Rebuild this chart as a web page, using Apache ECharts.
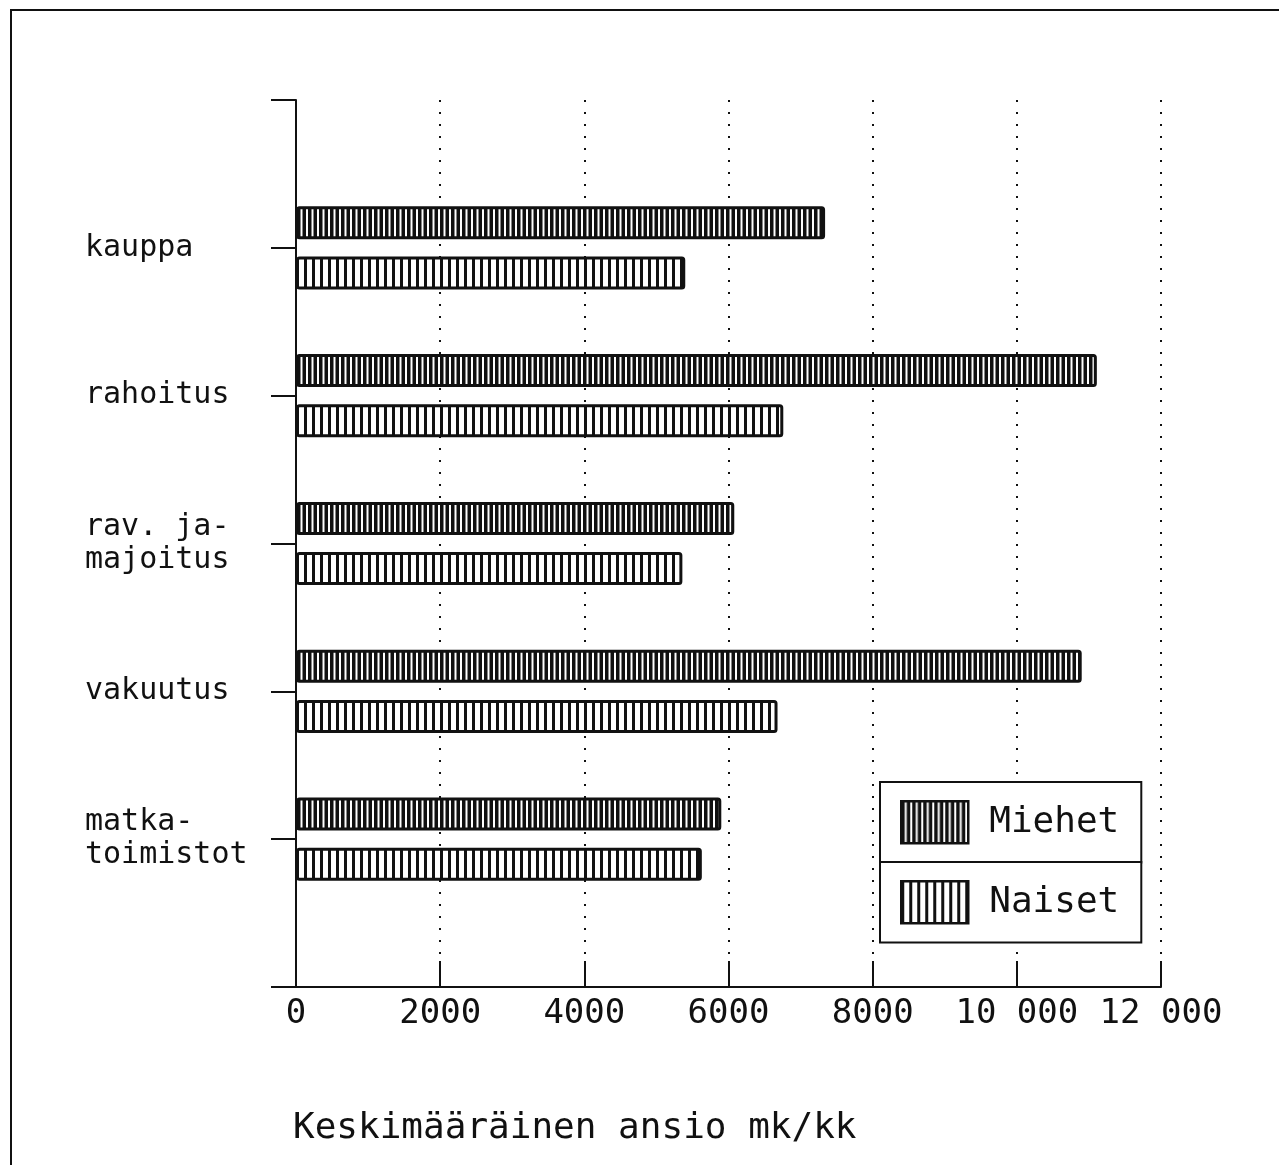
<!DOCTYPE html>
<html><head><meta charset="utf-8">
<script src="https://cdn.jsdelivr.net/npm/echarts@6/dist/echarts.min.js"></script>
<style>
html,body{margin:0;padding:0;background:#fff;overflow:hidden;}
#chart{position:absolute;left:0;top:0;width:1279px;height:1165px;}
#frame{position:absolute;left:10px;top:9px;width:1300px;height:1200px;border-top:2px solid #111;border-left:2px solid #111;pointer-events:none;}
</style></head><body>
<div id="chart"></div><div id="frame"></div>
<script>
// ---- data ----
const categories = ['kauppa', 'rahoitus', 'rav. ja-\nmajoitus', 'vakuutus', 'matka-\ntoimistot'];
const miehet = [7340, 11110, 6080, 10900, 5900];
const naiset = [5400, 6760, 5360, 6680, 5630];
const xTickValues = [0, 2000, 4000, 6000, 8000, 10000, 12000];
const seriesNames = ['Miehet', 'Naiset'];
const axisTitle = 'Keskimääräinen ansio mk/kk';

const INK = '#111';
const MONO = '"DejaVu Sans Mono", "Liberation Mono", monospace';

function stripePattern(tileW, stripes) {
  const c = document.createElement('canvas');
  c.width = tileW; c.height = 8;
  const g = c.getContext('2d');
  g.fillStyle = '#fff'; g.fillRect(0, 0, tileW, 8);
  g.fillStyle = INK;
  stripes.forEach(s => g.fillRect(s[0], 0, s[1], 8));
  return { image: c, repeat: 'repeat' };
}
const patMiehet = stripePattern(11, [[0, 3.5], [5.5, 3.5]]);
const patNaiset = stripePattern(8, [[0, 3]]);

const yData = [''].concat(categories, ['']);
const padData = arr => ['-'].concat(arr, ['-']);

const chart = echarts.init(document.getElementById('chart'), null, { renderer: 'canvas' });

function legendFor(name, top) {
  return {
    data: [name],
    left: 880, top: top,
    orient: 'vertical',
    icon: 'rect',
    itemWidth: 67, itemHeight: 42,
    padding: [18, 22, 18, 20],
    borderColor: INK, borderWidth: 2,
    backgroundColor: '#fff',
    selectedMode: false,
    itemStyle: { borderColor: INK, borderWidth: 2.5 },
    textStyle: { fontFamily: MONO, fontSize: 36, color: INK, width: 132, padding: [0, 0, 0, 16] }
  };
}

chart.setOption({
  animation: false,
  backgroundColor: '#fff',
  grid: { left: 296, right: 118, top: 100, bottom: 178 },
  title: {
    text: axisTitle, left: 288, top: 1106,
    textStyle: { fontFamily: MONO, fontSize: 36, fontWeight: 'normal', color: INK }
  },
  legend: [legendFor(seriesNames[0], 782), legendFor(seriesNames[1], 862)],
  xAxis: {
    type: 'value', min: 0, max: 12000, interval: 2000,
    axisLine: { show: true, lineStyle: { color: INK, width: 2 } },
    axisTick: { show: true, inside: true, length: 26, lineStyle: { color: INK, width: 2 } },
    splitLine: { show: true, lineStyle: { color: INK, width: 2, type: [2, 10] } },
    axisLabel: {
      margin: 10, fontFamily: MONO, fontSize: 34, color: INK,
      formatter: v => v >= 10000 ? String(v).replace(/\B(?=(\d{3})+(?!\d))/g, ' ') : String(v)
    }
  },
  yAxis: {
    type: 'category', data: yData, inverse: true, boundaryGap: false,
    axisLine: { show: true, onZero: false, lineStyle: { color: INK, width: 2 } },
    axisTick: { show: true, interval: 0, length: 25, lineStyle: { color: INK, width: 2 } },
    splitLine: { show: false },
    axisLabel: {
      interval: 0, align: 'left', margin: 211,
      fontFamily: MONO, fontSize: 30, lineHeight: 33, color: INK
    }
  },
  series: [
    {
      name: seriesNames[0], type: 'bar', data: padData(miehet),
      barWidth: 33, barGap: '52%',
      itemStyle: { color: patMiehet, borderColor: INK, borderWidth: 3, borderRadius: 2 }
    },
    {
      name: seriesNames[1], type: 'bar', data: padData(naiset),
      barWidth: 33, barGap: '52%',
      itemStyle: { color: patNaiset, borderColor: INK, borderWidth: 3, borderRadius: 2 }
    }
  ]
});
</script>
</body></html>
